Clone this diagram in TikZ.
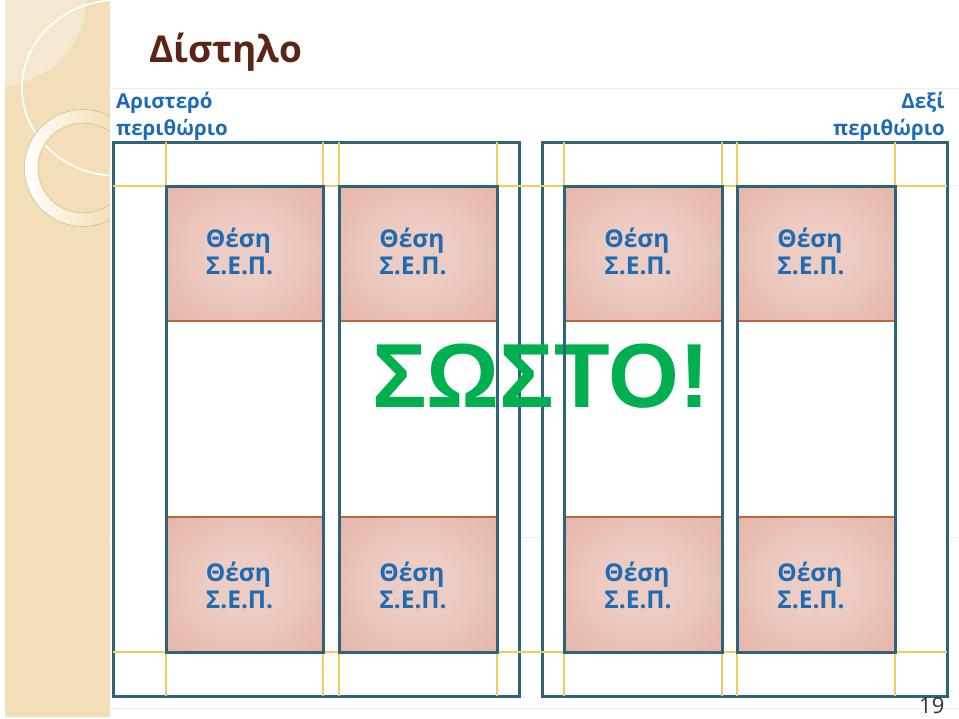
\documentclass[tikz,border=0pt]{standalone}
\usepackage{fontspec}
\setmainfont{Open Sans}
\newfontfamily\arialfont{Liberation Sans}
\definecolor{pgteal}{HTML}{2E6378}
\definecolor{guideyel}{HTML}{F2CC5C}
\definecolor{pinkin}{RGB}{236,204,195}
\definecolor{pinkout}{RGB}{226,166,150}
\definecolor{brownline}{HTML}{B8693E}
\definecolor{labelblue}{HTML}{1E6BB5}
\definecolor{titlebrown}{HTML}{5B2516}
\definecolor{okgreen}{HTML}{00B050}
\definecolor{stripcol}{RGB}{243,223,183}
\definecolor{striplight}{RGB}{245,232,208}
\definecolor{ringcol}{RGB}{238,212,160}
\definecolor{ringline}{RGB}{214,190,140}
\definecolor{faint}{RGB}{238,238,238}
\pgfdeclareradialshading{pinkshade}{\pgfpoint{0bp}{0bp}}{color(0bp)=(pinkin); color(12bp)=(pinkin); color(50bp)=(pinkout); color(80bp)=(pinkout)}
\tikzset{
  pageline/.style={draw=pgteal, line width=3pt, fill=white},
  colline/.style={draw=pgteal, line width=3pt},
  guide/.style={draw=guideyel, line width=1.3pt},
  slot/.style={shading=pinkshade},
  slotedge/.style={draw=brownline, line width=1.4pt},
  slottext/.style={text=labelblue, font=\fontsize{24.5}{27}\selectfont\bfseries, align=left, inner sep=0pt},
  margintext/.style={text=labelblue, font=\fontsize{20.5}{27}\selectfont\bfseries, inner sep=0pt},
}
\begin{document}
\begin{tikzpicture}[x=1pt,y=-1pt]
\useasboundingbox (0,0) rectangle (959,718);
\fill[white] (0,0) rectangle (959,718);
% decorative strip
\fill[stripcol] (5,0) rectangle (110,717);
\begin{scope}
  \clip (5,0) rectangle (110,717);
  \fill[striplight] (-5,-5) circle (92);
  \draw[white, line width=1.6pt] (118,88) ellipse [x radius=96, y radius=88];
  \shade[even odd rule, left color=white, right color=ringcol] (83,168) circle (58.5) (83,168) circle (45);
  \draw[ringline, line width=0.6pt] (83,168) circle (58.5) (83,168) circle (45);
\end{scope}
% faint slide lines
\foreach \yy in {88,185,537,708} \draw[faint, line width=1pt] (110,\yy) -- (959,\yy);
% pages
\draw[pageline] (113,142) rectangle (519,696);
\draw[pageline] (542,142) rectangle (947,696);
% guides
\foreach \xx in {166,323,339,497,564,722,737,895} \draw[guide] (\xx,142) -- (\xx,696);
\draw[guide] (113,186) -- (947,186);
\draw[guide] (113,652) -- (947,652);
% slots
\foreach \xa/\xb in {166/323,339/497,564/722,737/895} {
  \shade[slot] (\xa,186) rectangle (\xb,321);
  \shade[slot] (\xa,517) rectangle (\xb,652);
  \draw[slotedge] (\xa,321) -- (\xb,321);
  \draw[slotedge] (\xa,517) -- (\xb,517);
}
% big text (behind column lines)
\node[anchor=base west, inner sep=0pt, text=okgreen, font=\arialfont\bfseries\fontsize{91}{91}\selectfont] (ok) at (372,407) {ΣΩΣΤΟ!};
% columns
\foreach \xa/\xb in {166/323,339/497,564/722,737/895}
  \draw[colline] (\xa,186) rectangle (\xb,652);
% slot labels
\foreach \xa/\xb/\nm in {166/323/a,339/497/b,564/722/c,737/895/d} {
  \node[slottext] (top\nm) at ({(\xa+\xb)/2-5},251) {Θέση\\Σ.Ε.Π.};
  \node[slottext] (bot\nm) at ({(\xa+\xb)/2-5},585) {Θέση\\Σ.Ε.Π.};
}
% title and margin labels
\node[anchor=base west, inner sep=0pt, text=titlebrown, font=\fontsize{37}{37}\selectfont\bfseries] (title) at (149,62) {Δίστηλο};
\node[margintext, anchor=base west] (lm1) at (116,108) {Αριστερό};
\node[margintext, anchor=base west] (lm2) at (116,135) {περιθώριο};
\node[margintext, anchor=base east] (rm1) at (945,108) {Δεξί};
\node[margintext, anchor=base east] (rm2) at (945,135) {περιθώριο};
\node[anchor=base west, inner sep=0pt, text=black!80, font=\fontsize{22}{22}\selectfont] (pnum) at (919,713) {19};
\end{tikzpicture}
\end{document}
